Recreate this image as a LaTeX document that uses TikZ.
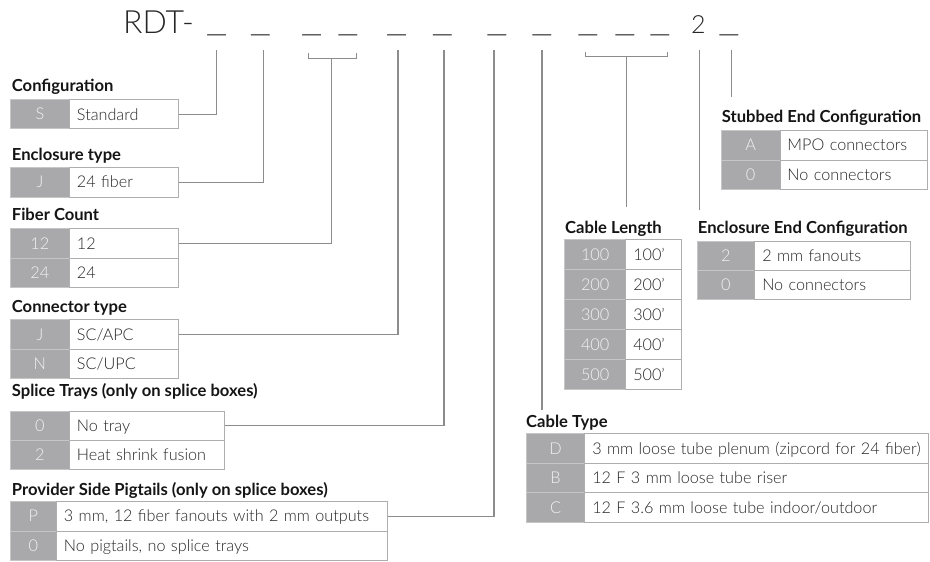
\documentclass[tikz,border=0pt]{standalone}
\usepackage{fontspec}
\setmainfont{Lato Light}[BoldFont={Lato Bold}]
\definecolor{keygray}{HTML}{A9A9AB}
\definecolor{keyline}{HTML}{C6C6C6}
\definecolor{keytext}{HTML}{F2F2F2}
\definecolor{cellline}{HTML}{AEAEAE}
\definecolor{wire}{HTML}{8C8C8C}
\definecolor{txt}{HTML}{262626}
\definecolor{head}{HTML}{151515}
\newcommand\trow[8]{%
  \pgfmathsetmacro\tw{#5-15}%
  \node[keycell, minimum width=#4pt, minimum height=#6pt] (#1k) at (#2,#3) {#7};
  \node[valcell, text width=\tw pt, minimum height=#6pt] (#1v) at (#2+#4,#3) {#8};
}
\begin{document}
\begin{tikzpicture}[x=1pt,y=-1pt,
  keycell/.style={fill=keygray, draw=keyline, line width=0.8pt, text=keytext, anchor=north west,
    inner sep=0pt, text height=11.5pt, text depth=0pt, font=\fontsize{16.3}{18}\selectfont},
  valcell/.style={fill=white, draw=cellline, line width=0.9pt, text=txt, anchor=north west,
    inner xsep=7.5pt, inner ysep=0pt, align=left, text height=11.5pt, text depth=0pt,
    font=\fontsize{16.2}{18}\selectfont},
  heading/.style={anchor=base west, inner sep=0pt, text=head, font=\bfseries\fontsize{16.6}{19}\selectfont},
  wire/.style={draw=wire, line width=1.1pt},
  usc/.style={anchor=base, inner sep=0pt, text=txt, font=\fontsize{32}{36}\selectfont}
]
\useasboundingbox[fill=white] (0,0) rectangle (930,562);

% title
\node[anchor=base west, inner sep=0pt, text=txt, font=\fontsize{32}{36}\selectfont] (rdt) at (123,33) {RDT-};
\node[usc] (u1) at (216.7,31) {\scalebox{1.5}[1]{\_}};
\node[usc] (u2) at (260.5,31) {\scalebox{1.5}[1]{\_}};
\node[usc] (u3) at (311.7,31) {\scalebox{1.5}[1]{\_}};
\node[usc] (u4) at (348,31) {\scalebox{1.5}[1]{\_}};
\node[usc] (u5) at (396.7,31) {\scalebox{1.5}[1]{\_}};
\node[usc] (u6) at (442.5,31) {\scalebox{1.5}[1]{\_}};
\node[usc] (u7) at (497,31) {\scalebox{1.5}[1]{\_}};
\node[usc] (u8) at (542,31) {\scalebox{1.5}[1]{\_}};
\node[usc] (u9) at (588,31) {\scalebox{1.5}[1]{\_}};
\node[usc] (u10) at (625,31) {\scalebox{1.5}[1]{\_}};
\node[usc] (u11) at (660,31) {\scalebox{1.5}[1]{\_}};
\node[anchor=base, inner sep=0pt, text=txt, font=\fontsize{25}{30}\selectfont] (two) at (698.3,33) {2};
\node[usc] (u12) at (729,31) {\scalebox{1.5}[1]{\_}};

% left tables
\node[heading] (hcfg) at (11.7,91) {Configuration};
\trow{cfg}{10}{99.3}{59}{109}{29}{S}{Standard}
\node[heading] (henc) at (11.7,160.3) {Enclosure type};
\trow{enc}{10}{166.7}{59}{109}{30}{J}{24 fiber}
\node[heading] (hfib) at (11.7,220.3) {Fiber Count};
\trow{fibA}{10}{228.3}{59}{109}{29.5}{12}{12}
\trow{fibB}{10}{257.8}{59}{109}{29.5}{24}{24}
\node[heading] (hcon) at (11.7,312) {Connector type};
\trow{conA}{10}{319.3}{59}{109}{29.2}{J}{SC/APC}
\trow{conB}{10}{348.5}{59}{109}{29.2}{N}{SC/UPC}
\node[heading] (hspl) at (11.7,396) {Splice Trays (only on splice boxes)};
\trow{splA}{10}{410.7}{59}{155}{29.3}{0}{No tray}
\trow{splB}{10}{440}{59}{155}{29.3}{2}{Heat shrink fusion}
\node[heading] (hpig) at (11.7,495.5) {Provider Side Pigtails (only on splice boxes)};
\trow{pigA}{10}{501}{46}{331}{29.5}{P}{3 mm, 12 fiber fanouts with 2 mm outputs}
\trow{pigB}{10}{530.5}{46}{331}{29.5}{0}{No pigtails, no splice trays}

% right tables
\node[heading] (hstb) at (721.7,122) {Stubbed End Configuration};
\trow{stbA}{721}{130}{58.5}{147.5}{29.5}{A}{MPO connectors}
\trow{stbB}{721}{159.5}{58.5}{147.5}{29.5}{0}{No connectors}
\node[heading] (hlen) at (565,233.6) {Cable Length};
\trow{lenA}{564.3}{239.3}{61}{55.4}{30}{100}{100'}
\trow{lenB}{564.3}{269.3}{61}{55.4}{30}{200}{200'}
\trow{lenC}{564.3}{299.3}{61}{55.4}{30}{300}{300'}
\trow{lenD}{564.3}{329.3}{61}{55.4}{30}{400}{400'}
\trow{lenE}{564.3}{359.3}{61}{55.4}{30}{500}{500'}
\node[heading] (hend) at (697.7,233.6) {Enclosure End Configuration};
\trow{endA}{696.7}{240.7}{57.6}{155.7}{29.3}{2}{2 mm fanouts}
\trow{endB}{696.7}{270}{57.6}{155.7}{29.3}{0}{No connectors}
\node[heading] (htyp) at (526,427) {Cable Type};
\trow{typA}{526}{433.3}{58.3}{343.7}{29.5}{D}{3 mm loose tube plenum (zipcord for 24 fiber)}
\trow{typB}{526}{462.8}{58.3}{343.7}{29.5}{B}{12 F 3 mm loose tube riser}
\trow{typC}{526}{492.3}{58.3}{343.7}{29.5}{C}{12 F 3.6 mm loose tube indoor/outdoor}

% connector tops
\coordinate (t1) at (216.7,50);
\coordinate (t2) at (263.3,50);
\coordinate (fa) at (308.3,53.3);
\coordinate (fm) at (331.7,58.3);
\coordinate (fb) at (356.7,53.3);
\coordinate (t5) at (398,50);
\coordinate (t6) at (444,50);
\coordinate (t7) at (494,50);
\coordinate (t8) at (542,50);
\coordinate (t8e) at (542,410);
\coordinate (la) at (585.7,52);
\coordinate (lm) at (626.7,56.7);
\coordinate (lb) at (667.3,52);
\coordinate (lme) at (626.7,207);
\coordinate (t12) at (699.3,50);
\coordinate (t12e) at (699.3,210);
\coordinate (t13) at (731.7,50);
\coordinate (t13e) at (731.7,96.7);

% connectors
\draw[wire] (t1) |- (cfgv.east);
\draw[wire] (t2) |- (encv.east);
\draw[wire] (fa) |- (fm) -| (fb);
\draw[wire] (fm) |- (fibAv.east);
\draw[wire] (t5) |- (conAv.east);
\draw[wire] (t6) |- (splAv.east);
\draw[wire] (t7) |- (pigAv.east);
\draw[wire] (t8) -- (t8e);
\draw[wire] (la) |- (lm) -| (lb);
\draw[wire] (lm) -- (lme);
\draw[wire] (t12) -- (t12e);
\draw[wire] (t13) -- (t13e);
\end{tikzpicture}
\end{document}
